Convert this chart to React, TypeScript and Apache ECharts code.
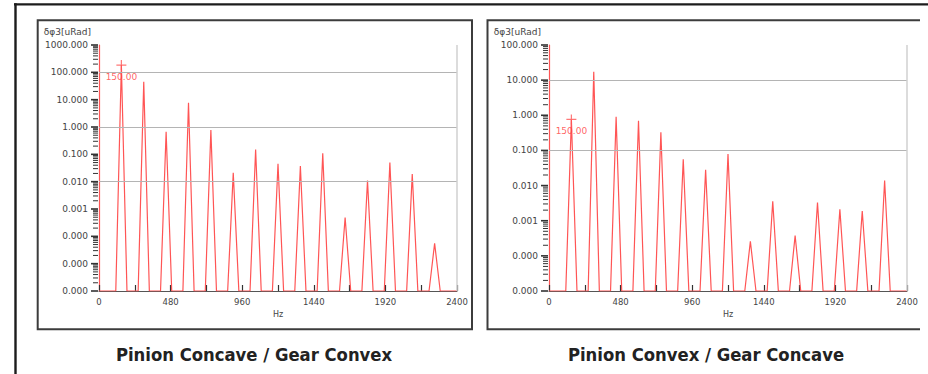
import React, { useEffect, useRef } from "react";
import * as echarts from "echarts";

// ---- data ----
const peakFreqs = [150, 300, 450, 600, 750, 900, 1050, 1200, 1350, 1500, 1650, 1800, 1950, 2100, 2250];
const leftPeaks = [185, 45, 0.67, 7.7, 0.78, 0.021, 0.15, 0.045, 0.037, 0.11, 0.00049, 0.011, 0.05, 0.019, 0.000055];
const rightPeaks = [0.76, 17.4, 0.91, 0.7, 0.33, 0.056, 0.028, 0.079, 0.00026, 0.0036, 0.00038, 0.0033, 0.0021, 0.0019, 0.014];
const binWidth = 37.5;
const xMin = 0;
const xMax = 2400;
const xTickStep = 240;
const xLabelStep = 480;
const leftYRange = [1e-6, 1000];
const rightYRange = [1e-5, 100];
const leftGridValues = [1e-4, 0.01, 1, 100];
const rightGridValues = [1e-3, 0.1, 10];
const cursorFreq = 150;
const cursorLabel = "150.00";
const leftCursorValue = 185;
const rightCursorValue = 0.76;
const titles = ["Pinion Concave / Gear Convex", "Pinion Convex / Gear Concave"];
const yName = "δφ3[uRad]";
const xName = "Hz";

const RED = "#ff5555";
const FONT = "'DejaVu Sans', sans-serif";

function spectrum(peaks: number[], floor: number) {
  const pts: number[][] = [[xMin, floor]];
  peakFreqs.forEach((f, i) => {
    pts.push([f - binWidth, floor]);
    pts.push([f, peaks[i]]);
    pts.push([f + binWidth, floor]);
  });
  pts.push([xMax, floor]);
  return pts;
}

function logTicks(range: number[]) {
  const lo = Math.round(Math.log10(range[0]));
  const hi = Math.round(Math.log10(range[1]));
  const out: number[][] = [];
  for (let e = lo; e < hi; e++) {
    for (let k = 1; k <= 9; k++) out.push([0, k * Math.pow(10, e), k === 1 ? 1 : 0]);
  }
  out.push([0, Math.pow(10, hi), 1]);
  return out;
}

export default function App() {
  const ref = useRef<HTMLDivElement>(null);
  useEffect(() => {
    if (!ref.current) return;
    const chart = echarts.init(ref.current, null, { renderer: "svg" });

    const grids = [
      { left: 99, right: 471, top: 45, bottom: 83 },
      { left: 549, right: 21, top: 45, bottom: 83 },
    ];
    const ranges = [leftYRange, rightYRange];

    const xAxes = [0, 1].map((i) => ({
      type: "value",
      gridIndex: i,
      min: xMin,
      max: xMax,
      interval: xTickStep,
      name: xName,
      nameLocation: "middle",
      nameGap: 16,
      nameTextStyle: { fontSize: 8, color: "#444", fontFamily: FONT },
      axisLine: { onZero: false, lineStyle: { color: "#555", width: 1 } },
      axisTick: { show: true, inside: true, length: 6, lineStyle: { color: "#333", width: 1.2 } },
      axisLabel: {
        margin: 6,
        fontSize: 8.5,
        color: "#444",
        fontFamily: FONT,
        showMinLabel: true,
        showMaxLabel: true,
        formatter: (v: number) => (v % xLabelStep === 0 ? String(v) : ""),
      },
      splitLine: { show: false },
    }));

    const yAxes = [0, 1].map((i) => ({
      type: "log",
      logBase: 10,
      gridIndex: i,
      min: ranges[i][0],
      max: ranges[i][1],
      splitNumber: Math.round(Math.log10(ranges[i][1] / ranges[i][0])),
      name: yName,
      nameLocation: "end",
      nameGap: 9,
      nameTextStyle: { fontSize: 9, color: "#444", fontFamily: FONT, align: "right", padding: [0, 8, 0, 0] },
      axisLine: { show: true, lineStyle: { color: RED, width: 1.2 } },
      axisTick: { show: false },
      axisLabel: {
        margin: 11,
        fontSize: 9,
        color: "#444",
        fontFamily: FONT,
        showMinLabel: true,
        showMaxLabel: true,
        formatter: (v: number) => v.toFixed(3),
      },
      splitLine: { show: false },
    }));

    const gridVals = [leftGridValues, rightGridValues];
    const peaks = [leftPeaks, rightPeaks];
    const cursorVals = [leftCursorValue, rightCursorValue];

    const series: any[] = [];
    [0, 1].forEach((i) => {
      series.push({
        type: "custom",
        xAxisIndex: i,
        yAxisIndex: i,
        silent: true,
        clip: false,
        z: 1,
        data: logTicks(ranges[i]),
        encode: { x: 0, y: 1 },
        renderItem: (_p: any, api: any) => {
          const pt = api.coord([api.value(0), api.value(1)]);
          const major = api.value(2) === 1;
          const len = major ? 8 : 6;
          return {
            type: "line",
            shape: { x1: pt[0] - len, y1: pt[1], x2: pt[0] - 1, y2: pt[1] },
            style: { stroke: "#333", lineWidth: major ? 1.6 : 1 },
          };
        },
        markLine: {
          silent: true,
          symbol: "none",
          label: { show: false },
          lineStyle: { color: "#b4b4b4", type: "solid", width: 1.2 },
          data: [
            ...gridVals[i].map((v) => ({ yAxis: v })),
            { xAxis: xMax, lineStyle: { color: "#d0d0d0", width: 1.5 } },
          ],
        },
      });
      series.push({
        type: "line",
        xAxisIndex: i,
        yAxisIndex: i,
        z: 3,
        silent: true,
        showSymbol: false,
        symbol: "none",
        lineStyle: { color: RED, width: 1.2 },
        data: spectrum(peaks[i], ranges[i][0]),
      });
      series.push({
        type: "scatter",
        xAxisIndex: i,
        yAxisIndex: i,
        z: 4,
        silent: true,
        symbol: "path://M0,5L10,5M5,0L5,10",
        symbolSize: 10,
        itemStyle: { color: "none", borderColor: RED, borderWidth: 1.2 },
        label: {
          show: true,
          position: "bottom",
          distance: 0,
          formatter: cursorLabel,
          color: "#ff3b3b",
          fontSize: 9,
          fontFamily: FONT,
        },
        data: [[cursorFreq, cursorVals[i]]],
      });
    });

    const titleStyle = {
      fill: "#222",
      fontSize: 18.3,
      fontWeight: "bold",
      fontFamily: "'DejaVu Sans Condensed', 'Liberation Sans Narrow', 'DejaVu Sans', sans-serif",
      align: "center",
      verticalAlign: "middle",
    };

    chart.setOption({
      animation: false,
      backgroundColor: "#ffffff",
      grid: grids,
      xAxis: xAxes,
      yAxis: yAxes,
      series,
      graphic: [
        { type: "line", shape: { x1: 14, y1: 4.3, x2: 928, y2: 4.3 }, style: { stroke: "#1c1c1c", lineWidth: 2.2 } },
        { type: "line", shape: { x1: 15.5, y1: 3.2, x2: 15.5, y2: 374 }, style: { stroke: "#1c1c1c", lineWidth: 2.4 } },
        { type: "rect", shape: { x: 37.7, y: 20.3, width: 434.3, height: 309 }, style: { fill: "none", stroke: "#3c3c3c", lineWidth: 2 } },
        { type: "polyline", shape: { points: [[920, 20.3], [487.5, 20.3], [487.5, 329.3], [920, 329.3]] }, style: { fill: "none", stroke: "#3c3c3c", lineWidth: 2 } },
        { type: "text", x: 254, y: 354, style: { text: titles[0], ...titleStyle } },
        { type: "text", x: 706, y: 354, style: { text: titles[1], ...titleStyle } },
      ],
    });
    return () => chart.dispose();
  }, []);
  return <div ref={ref} style={{ position: "absolute", left: 0, top: 0, width: 928, height: 374 }} />;
}
